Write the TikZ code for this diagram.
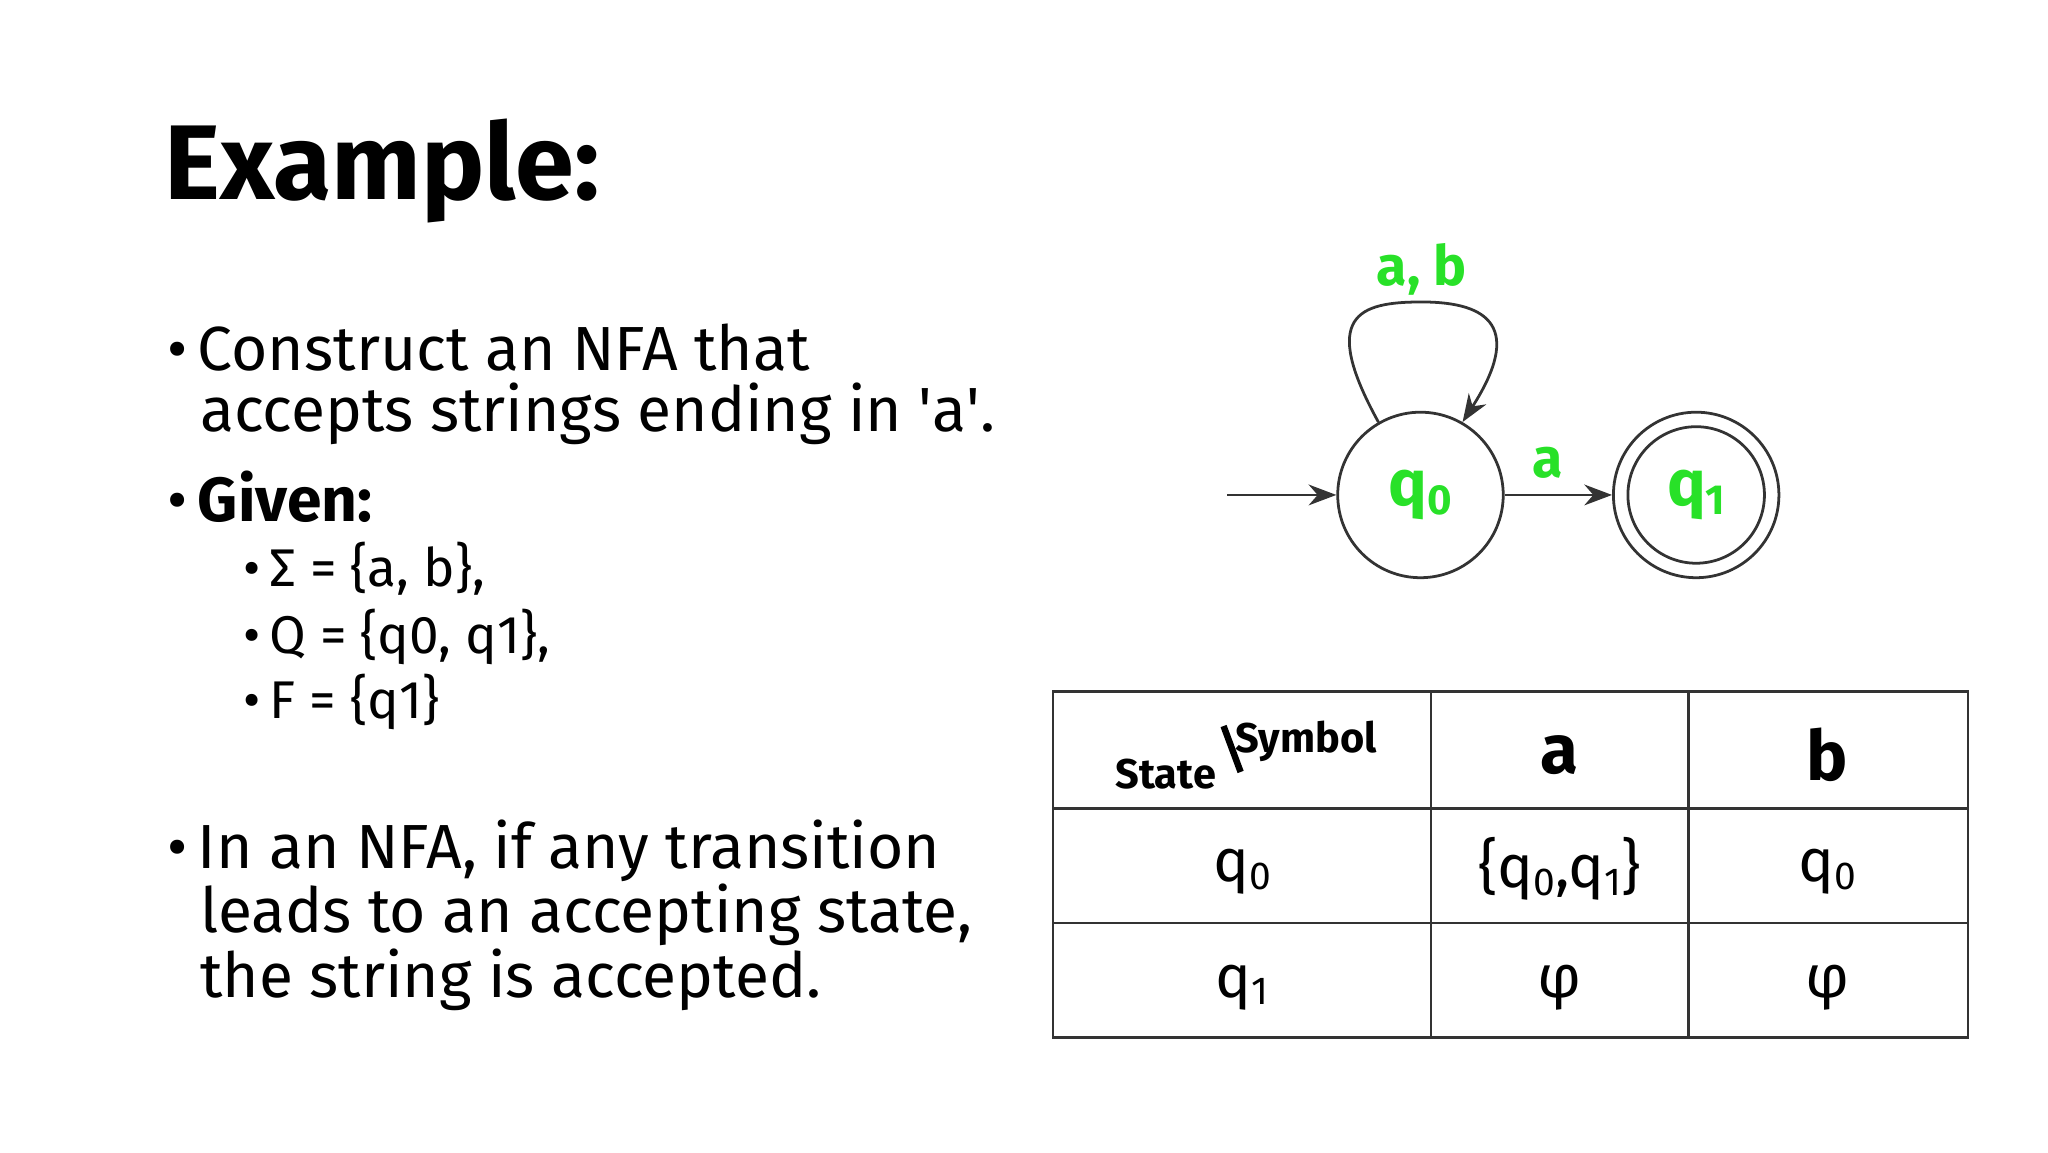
\documentclass[tikz,border=0pt]{standalone}
\usepackage{fontspec}
\setmainfont{Fira Sans}
\usetikzlibrary{arrows.meta}
\definecolor{lbl}{RGB}{40,225,40}
\newcommand{\sbs}[1]{\raisebox{-0.25ex}{\scalebox{0.65}{#1}}}
\begin{document}
\begin{tikzpicture}[x=0.01cm,y=-0.01cm,
  st/.style={circle,draw=black!80,line width=0.6pt,minimum size=1.26cm,inner sep=0pt,text=lbl,font=\fontsize{14}{14}\selectfont\bfseries},
  edge/.style={draw=black!80,line width=0.6pt,-{Stealth[length=6pt]}},
  el/.style={text=lbl,font=\fontsize{12}{12}\selectfont\bfseries},
  body/.style={anchor=west,font=\fontsize{13.5}{15}\selectfont},
  sub/.style={anchor=west,font=\fontsize{11.5}{13}\selectfont},
  cell/.style={font=\fontsize{13}{13}\selectfont}]
\useasboundingbox (0,0) rectangle (1560,877.5);
\node[anchor=west,font=\fontsize{23}{23}\selectfont\bfseries] (title) at (113,130) {Example:};
\node[body] (b1) at (115,265) {•\,Construct an NFA that};
\node[body] (b1b) at (140,315) {accepts strings ending in \textquotesingle a\textquotesingle.};
\node[body] (b2) at (115,378) {•\,\textbf{Given:}};
\node[sub] (s1) at (173,433) {•\,Σ = \{a, b\},};
\node[sub] (s2) at (173,485) {•\,Q = \{q0, q1\},};
\node[sub] (s3) at (173,535) {•\,F = \{q1\}};
\node[body] (b3) at (115,648) {•\,In an NFA, if any transition};
\node[body] (b3b) at (140,697) {leads to an accepting state,};
\node[body] (b3c) at (140,746) {the string is accepted.};
% automaton
\node[st] (q0) at (1082,377) {q\sbs{0}};
\node[st] (q1) at (1292,377) {q\sbs{1}};
\draw[black!80,line width=0.6pt] (q1.center) circle (52);
\coordinate (init) at (935,377);
\draw[edge] (init) -- (q0);
\draw[edge] (q0) -- node[el,above,pos=0.4] {a} (q1);
\draw[edge] (q0.120) .. controls (1005,240) and (1035,230) .. (1083,230) .. controls (1135,230) and (1160,250) .. (q0.60);
\node[el] (lab) at (1083,205) {a, b};
% table
\draw[black!80,line width=0.6pt] (802,527) rectangle (1499,790);
\draw[black!80,line width=0.6pt] (1090,527) -- (1090,790) (1286,527) -- (1286,790)
  (802,616) -- (1499,616) (802,703) -- (1499,703);
\node[font=\fontsize{9}{9}\selectfont\bfseries] (hs) at (888,590) {State};
\node[font=\fontsize{9}{9}\selectfont\bfseries] (hy) at (995,565) {Symbol};
\draw[line width=1.4pt] (932,553) -- (945,588);
\node[cell,font=\fontsize{15}{15}\selectfont\bfseries] (ha) at (1188,575) {a};
\node[cell,font=\fontsize{15}{15}\selectfont\bfseries] (hb) at (1392,575) {b};
\node[cell] (c1) at (946,664) {q\sbs{0}};
\node[cell] (c2) at (1188,662) {\{q\sbs{0},q\sbs{1}\}};
\node[cell] (c3) at (1392,664) {q\sbs{0}};
\node[cell] (c4) at (946,752) {q\sbs{1}};
\node[cell] (c5) at (1188,752) {φ};
\node[cell] (c6) at (1392,752) {φ};
\end{tikzpicture}
\end{document}
